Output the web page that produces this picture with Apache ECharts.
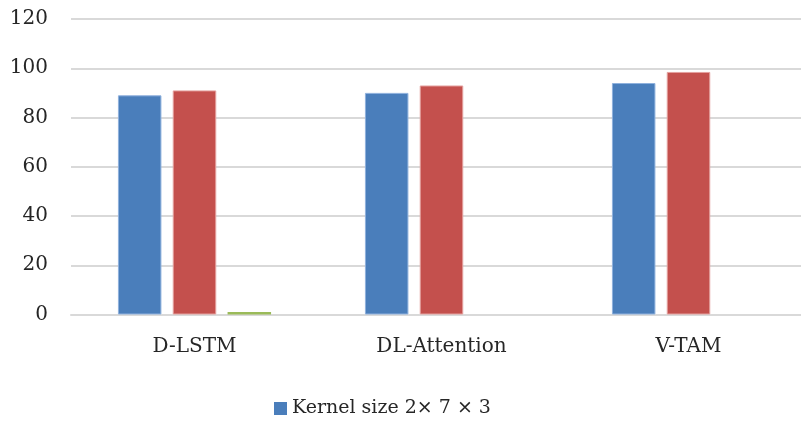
<!DOCTYPE html>
<html>
<head>
<meta charset="utf-8">
<script src="https://cdn.jsdelivr.net/npm/echarts@6/dist/echarts.min.js"></script>
<style>
  html, body { margin: 0; padding: 0; background: #ffffff; }
  #chart { width: 801px; height: 422px; }
</style>
</head>
<body>
<div id="chart"></div>
<script>
// Model names along the x axis
const categories = ['D-LSTM', 'DL-Attention', 'V-TAM'];

// Series names and values
const seriesNames = ['Kernel size 2× 7 × 3', 'Series 2', 'Series 3'];
const blueValues = [89, 90, 94];
const redValues = [91, 93, 98.5];
const greenValues = [1, 0, 0];

// Value axis range
const yMin = 0;
const yMax = 120;
const yStep = 20;

const fontFamily = '"DejaVu Serif", "Liberation Serif", serif';
const textColor = '#262626';

const chart = echarts.init(document.getElementById('chart'), null, { renderer: 'canvas' });

chart.setOption({
  animation: false,
  backgroundColor: '#ffffff',
  // the plot area runs past the right edge of the canvas
  grid: { left: 71, width: 741, top: 19, bottom: 107.5, containLabel: false, outerBoundsMode: 'none' },
  legend: {
    data: [seriesNames[0]],
    left: 274,
    top: 399,
    icon: 'rect',
    itemWidth: 13,
    itemHeight: 13,
    itemGap: 6,
    itemStyle: { borderWidth: 0 },
    textStyle: { fontFamily: fontFamily, fontSize: 19, color: textColor, padding: [0, 0, 0, 0] },
    padding: 0
  },
  xAxis: {
    type: 'category',
    data: categories,
    axisLine: { show: true, lineStyle: { color: '#d9d9d9', width: 2 } },
    axisTick: { show: false },
    axisLabel: { fontFamily: fontFamily, fontSize: 20, color: textColor, margin: 22 }
  },
  yAxis: {
    type: 'value',
    min: yMin,
    max: yMax,
    interval: yStep,
    axisLine: { show: false },
    axisTick: { show: false },
    axisLabel: { fontFamily: fontFamily, fontSize: 20, color: textColor, margin: 23 },
    splitLine: { lineStyle: { color: '#d9d9d9', width: 2 } }
  },
  series: [
    {
      name: seriesNames[0],
      type: 'bar',
      data: blueValues,
      barCategoryGap: '38%',
      barGap: '26%',
      itemStyle: { color: '#4a7ebb', borderColor: '#8fb1dd', borderWidth: 1 }
    },
    {
      name: seriesNames[1],
      type: 'bar',
      data: redValues,
      itemStyle: { color: '#c4504d', borderColor: '#e4a09e', borderWidth: 1 }
    },
    {
      name: seriesNames[2],
      type: 'bar',
      data: greenValues,
      itemStyle: { color: '#9bbb59' }
    }
  ]
});
</script>
</body>
</html>
